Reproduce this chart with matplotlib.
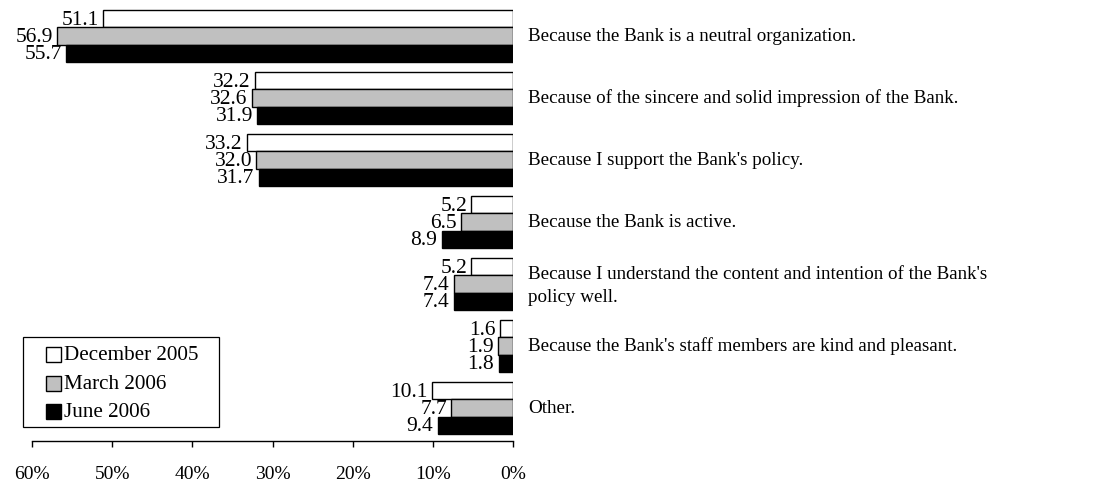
import matplotlib
matplotlib.use("Agg")
import matplotlib.pyplot as plt
from matplotlib.patches import Rectangle
import numpy as np

categories = [
    "Because the Bank is a neutral organization.",
    "Because of the sincere and solid impression of the Bank.",
    "Because I support the Bank's policy.",
    "Because the Bank is active.",
    "Because I understand the content and intention of the Bank's\npolicy well.",
    "Because the Bank's staff members are kind and pleasant.",
    "Other.",
]
series_names = ["December 2005", "March 2006", "June 2006"]
dec_2005 = [51.1, 32.2, 33.2, 5.2, 5.2, 1.6, 10.1]
mar_2006 = [56.9, 32.6, 32.0, 6.5, 7.4, 1.9, 7.7]
jun_2006 = [55.7, 31.9, 31.7, 8.9, 7.4, 1.8, 9.4]
colors = ["white", "#c0c0c0", "black"]
xticks = [60, 50, 40, 30, 20, 10, 0]
xtick_labels = ["60%", "50%", "40%", "30%", "20%", "10%", "0%"]

plt.rcParams["font.family"] = ["Liberation Serif", "DejaVu Serif"]
FS_CAT = 13.7
FS_NUM = 15.5
FS_TICK = 14
FS_LEG = 15.2

W, H = 1094, 484
fig = plt.figure(figsize=(W / 100, H / 100), dpi=100)
ax = fig.add_axes([32 / W, (H - 441) / H, (513 - 32) / W, (441 - 5) / H])

bar_h = 0.28
y = np.arange(len(categories))
for k, (vals, col) in enumerate(zip([dec_2005, mar_2006, jun_2006], colors)):
    pos = y + (k - 1) * bar_h
    ax.barh(pos, vals, height=bar_h, color=col, edgecolor="black",
            linewidth=1.0, label=series_names[k])
    for p, v in zip(pos, vals):
        ax.annotate(f"{v:.1f}", xy=(v, p), xytext=(-3, -1.0), textcoords="offset points",
                    ha="right", va="center", fontsize=FS_NUM)

for p, c in zip(y, categories):
    ax.annotate(c, xy=(0, p), xytext=(11, -1.5 if "\n" in c else 0),
                textcoords="offset points", ha="left", va="center",
                fontsize=FS_CAT, linespacing=1.45, annotation_clip=False)

ax.set_xlim(60, 0)
ax.set_ylim(6.532, -0.5)
ax.set_yticks([])
ax.set_xticks(xticks)
ax.set_xticklabels(xtick_labels, fontsize=FS_TICK)
ax.tick_params(axis="x", direction="out", length=4.5, width=1, pad=13.5)
for s in ["left", "right", "top"]:
    ax.spines[s].set_visible(False)
ax.spines["bottom"].set_linewidth(1)

# Legend box, laid out in figure pixels
def px(x, yy):
    return x / W, 1 - yy / H

fx, fy = px(23, 427)
fig.patches.append(Rectangle((fx, fy), (219 - 23) / W, (427 - 337) / H,
                             transform=fig.transFigure, facecolor="white",
                             edgecolor="black", linewidth=0.9))
for name, col, yc in zip(series_names, colors, [354, 383, 411]):
    sx, sy = px(46, yc + 8)
    fig.patches.append(Rectangle((sx, sy), 15 / W, 15 / H, transform=fig.transFigure,
                                 facecolor=col, edgecolor="black", linewidth=1.0))
    tx, ty = px(64, yc + 1.5)
    fig.text(tx, ty, name, fontsize=FS_LEG, ha="left", va="center")

fig.savefig("out.png", dpi=100)
